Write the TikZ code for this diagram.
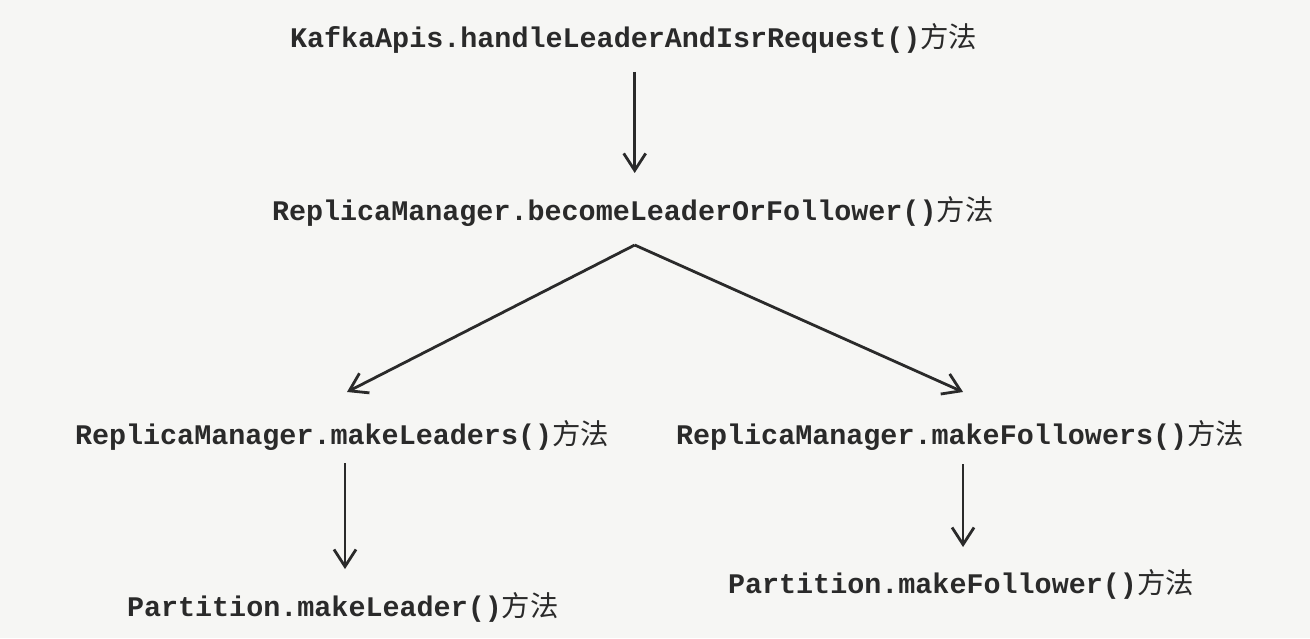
\documentclass[tikz,border=0pt]{standalone}
\usepackage{fontspec}
\setmonofont{Liberation Mono}
\newfontfamily\cjk{Noto Sans CJK SC}
\usetikzlibrary{arrows.meta,calc}
\definecolor{ink}{HTML}{2A2A2A}
\definecolor{paper}{HTML}{F6F6F4}
\tikzset{
  lbl/.style={anchor=west, inner sep=0pt, outer sep=0pt, text=ink,
    font=\fontsize{14.2pt}{16pt}\selectfont\ttfamily\bfseries},
  arr/.style={draw=ink, line width=1.4pt,
    -{Straight Barb[length=8.5pt,width=11pt,line width=1.4pt]}},
}
\begin{document}
\begin{tikzpicture}[x=0.5pt,y=-0.5pt]
\fill[paper] (0,0) rectangle (1310,638);
\useasboundingbox (0,0) rectangle (1310,638);
\node[lbl] (top) at (290,38) {KafkaApis.handleLeaderAndIsrRequest(){\cjk\mdseries 方法}};
\node[lbl] (mid) at (272,211) {ReplicaManager.becomeLeaderOrFollower(){\cjk\mdseries 方法}};
\node[lbl] (ml) at (75,435) {ReplicaManager.makeLeaders(){\cjk\mdseries 方法}};
\node[lbl] (mr) at (676,435) {ReplicaManager.makeFollowers(){\cjk\mdseries 方法}};
\node[lbl] (bl) at (127,607) {Partition.makeLeader(){\cjk\mdseries 方法}};
\node[lbl] (br) at (728,584) {Partition.makeFollower(){\cjk\mdseries 方法}};
\coordinate (apex) at ($(mid.south)+(2,19)$);
\coordinate (t0) at ($(top.south)+(1,19)$);
\coordinate (m0) at ($(mid.north)+(0,-23)$);
\coordinate (l0) at ($(ml.south)+(3,13)$);
\coordinate (l1) at ($(bl.north)+(0,-23)$);
\coordinate (r0) at ($(mr.south)+(3,14)$);
\coordinate (r1) at ($(br.north)+(0,-22)$);
\draw[arr] (t0) -- (t0 |- m0);
\draw[arr] (apex) -- ($(ml.north)+(5,-28)$);
\draw[arr] (apex) -- ($(mr.north)+(3,-28)$);
\draw[arr] (l0) -- (l0 |- l1);
\draw[arr] (r0) -- (r0 |- r1);
\end{tikzpicture}
\end{document}
